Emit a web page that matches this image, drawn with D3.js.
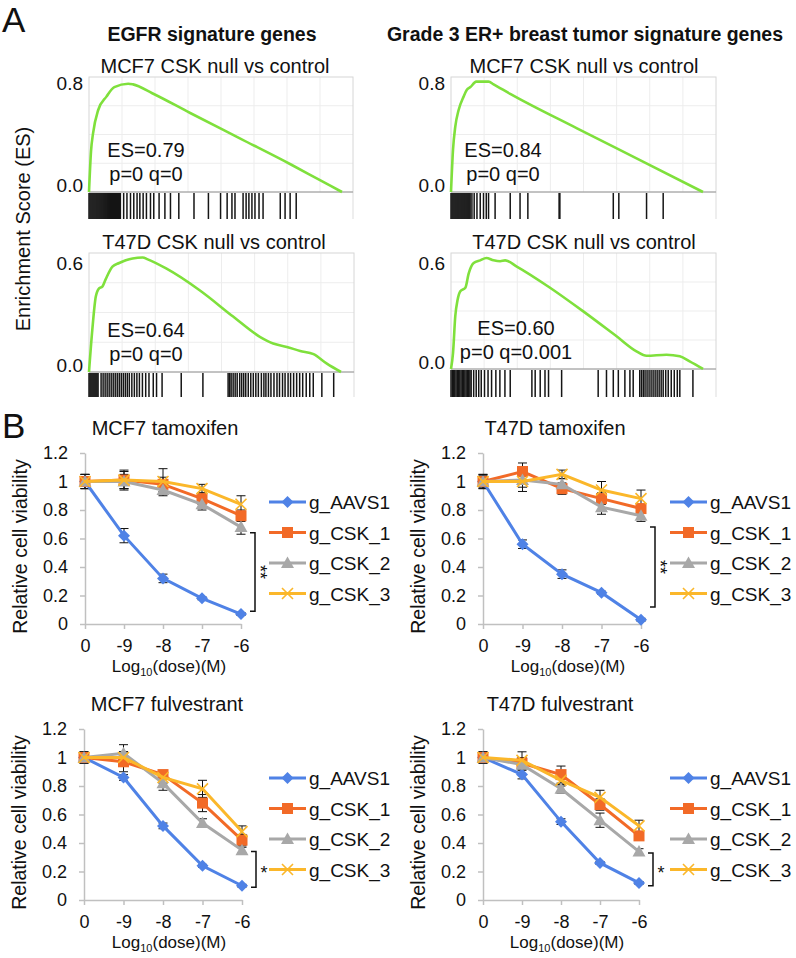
<!DOCTYPE html>
<html>
<head>
<meta charset="utf-8">
<script src="https://cdn.jsdelivr.net/npm/d3@7"></script>
<style>
body { margin: 0; background: #fff; }
text { font-family: "Liberation Sans", Arial, sans-serif; fill: #111; }
</style>
</head>
<body>
<div id="fig"></div>
<script>
// ---------- panel A: GSEA running enrichment scores ----------
// rank position (fraction of ranked gene list) and running ES
var egfrMcf7Rank = [0, 0.008, 0.016, 0.036, 0.069, 0.10, 0.155, 0.174, 0.25, 0.40, 0.60, 0.80, 0.90, 1];
var egfrMcf7Es   = [0, 0.30, 0.43, 0.60, 0.70, 0.77, 0.795, 0.79, 0.725, 0.58, 0.39, 0.20, 0.10, 0];
var egfrMcf7Hits = [0, .004, .008, .012, .016, .020, .024, .028, .032, .036, .040, .044, .048, .052, .056, .060,
    .064, .068, .072, .076, .080, .084, .088, .092, .096, .100, .104, .108, .112, .116, .120, .124,
    .137, .150, .164, .177, .190, .201, .214, .227, .243, .256, .277, .300, .322, .355, .415, .472, .520,
    .546, .565, .577, .609, .621, .632, .644, .656, .672, .688, .756, .775, .795, .819];

var gradeMcf7Rank = [0, 0.008, 0.017, 0.030, 0.050, 0.063, 0.077, 0.100, 0.149, 0.169, 0.235, 0.5, 0.75, 1];
var gradeMcf7Es   = [0, 0.31, 0.48, 0.60, 0.70, 0.75, 0.77, 0.81, 0.81, 0.79, 0.72, 0.467, 0.234, 0];
var gradeMcf7Hits = [0, .004, .008, .012, .016, .020, .024, .028, .032, .036, .040, .044, .048, .052, .056, .060,
    .064, .068, .072, .076, .083, .092, .103, .116, .129, .140, .149,
    .175, .235, .274, .305, .429, .432, .644, .666, .776, .842];

var egfrT47dRank = [0, 0.013, 0.027, 0.040, 0.053, 0.066, 0.093, 0.120, 0.146, 0.173, 0.213, 0.233, 0.306,
    0.439, 0.572, 0.678, 0.731, 0.785, 0.838, 0.891, 0.944, 1];
var egfrT47dEs   = [0, 0.23, 0.415, 0.46, 0.47, 0.51, 0.58, 0.60, 0.615, 0.625, 0.63, 0.62, 0.57,
    0.45, 0.305, 0.194, 0.157, 0.138, 0.116, 0.098, 0.046, 0];
var egfrT47dHits = [0, .004, .008, .012, .016, .020, .024, .028, .032, .036,
    .048, .056, .064, .072, .080, .088, .096, .104, .112, .120, .128, .136, .144, .152, .160, .170, .180,
    .190, .200, .212, .225, .238, .255, .268, .290, .366, .452,
    .552, .558, .564, .572, .580, .588, .598, .606, .614, .622, .632, .642, .652, .662, .672, .684, .694,
    .702, .712, .722, .734, .746, .756, .768, .778, .790, .800, .812, .824, .836, .848, .862, .876, .890,
    .924, .971];

var gradeT47dRank = [0, 0.008, 0.017, 0.026, 0.037, 0.057, 0.070, 0.090, 0.116, 0.140, 0.169, 0.195, 0.215,
    0.261, 0.393, 0.525, 0.657, 0.736, 0.776, 0.855, 0.908, 0.947, 1];
var gradeT47dEs   = [0, 0.09, 0.30, 0.39, 0.44, 0.46, 0.54, 0.60, 0.615, 0.628, 0.615, 0.61, 0.615,
    0.58, 0.46, 0.326, 0.185, 0.10, 0.075, 0.081, 0.072, 0.043, 0];
var gradeT47dHits = [0, .005, .010, .015, .020, .025, .030, .035, .040, .045, .050, .055, .060, .065, .070, .075, .080,
    .090, .100, .110, .120, .133, .147, .161, .178, .194, .214, .235,
    .321, .334, .354, .373, .387, .439, .584, .617, .644, .664, .690, .710, .723,
    .749, .756, .763, .770, .778, .786, .794, .802, .810, .818, .826, .834, .842, .852, .862, .874, .886,
    .898, .908, .960];

// ---------- panel B: relative cell viability ----------
var doseLabels = ["0", "-9", "-8", "-7", "-6"];
var seriesNames = ["g_AAVS1", "g_CSK_1", "g_CSK_2", "g_CSK_3"];
var viabTicks = [0, 0.2, 0.4, 0.6, 0.8, 1, 1.2];

var mcf7TamMean = [[1, 0.62, 0.32, 0.18, 0.07], [1, 1.01, 0.98, 0.88, 0.76], [1, 1.0, 0.94, 0.84, 0.68], [1, 1.01, 1.0, 0.95, 0.84]];
var mcf7TamErr  = [[0.05, 0.05, 0.03, 0.01, 0.01], [0.05, 0.06, 0.05, 0.04, 0.04], [0.05, 0.05, 0.04, 0.04, 0.05], [0.02, 0.07, 0.09, 0.03, 0.06]];
var t47dTamMean = [[1, 0.56, 0.35, 0.22, 0.03], [1, 1.07, 0.95, 0.88, 0.81], [1, 1.01, 0.98, 0.82, 0.76], [1, 1.0, 1.05, 0.94, 0.88]];
var t47dTamErr  = [[0.05, 0.03, 0.03, 0.01, 0.01], [0.04, 0.06, 0.04, 0.04, 0.03], [0.05, 0.05, 0.04, 0.05, 0.04], [0.03, 0.07, 0.03, 0.06, 0.06]];
var mcf7FulMean = [[1, 0.86, 0.52, 0.24, 0.10], [1, 0.97, 0.88, 0.68, 0.42], [1, 1.03, 0.82, 0.54, 0.35], [1, 1.0, 0.86, 0.78, 0.48]];
var mcf7FulErr  = [[0.04, 0.02, 0.02, 0.01, 0.01], [0.04, 0.07, 0.03, 0.06, 0.04], [0.03, 0.06, 0.05, 0.03, 0.02], [0.03, 0.04, 0.04, 0.06, 0.04]];
var t47dFulMean = [[1, 0.88, 0.55, 0.26, 0.12], [1, 0.96, 0.88, 0.67, 0.45], [1, 0.95, 0.78, 0.56, 0.34], [1, 0.98, 0.84, 0.72, 0.52]];
var t47dFulErr  = [[0.04, 0.03, 0.02, 0.01, 0.01], [0.04, 0.04, 0.06, 0.04, 0.03], [0.03, 0.03, 0.03, 0.05, 0.02], [0.03, 0.06, 0.04, 0.05, 0.04]];

// significance brackets: [top value, bottom value, stars]
var mcf7TamSig = [0.64, 0.09, "**"];
var t47dTamSig = [0.68, 0.12, "**"];
var mcf7FulSig = [0.34, 0.09, "*"];
var t47dFulSig = [0.33, 0.10, "*"];

var colors = ["#4f82e6", "#f26a27", "#a8a8a8", "#fbb72a"];
var markers = ["diamond", "square", "triangle", "cross"];

var svg = d3.select("#fig").append("svg")
    .attr("width", 796)
    .attr("height", 958);

// panel letters and headers
svg.append("text").attr("x", 2).attr("y", 32).style("font-size", "35px").text("A");
svg.append("text").attr("x", 2).attr("y", 438).style("font-size", "35px").text("B");

svg.append("text").attr("x", 212).attr("y", 41).attr("text-anchor", "middle")
    .style("font-size", "19.5px").style("font-weight", "bold").text("EGFR signature genes");
svg.append("text").attr("x", 585).attr("y", 41).attr("text-anchor", "middle")
    .style("font-size", "19.5px").style("font-weight", "bold").text("Grade 3 ER+ breast tumor signature genes");

svg.append("text")
    .attr("transform", "translate(30,229) rotate(-90)")
    .attr("text-anchor", "middle")
    .style("font-size", "20px")
    .text("Enrichment Score (ES)");

function drawGsea(p) {
    var x = d3.scaleLinear().domain([0, 1]).range([p.left, p.curveEnd]);
    var y = d3.scaleLinear().domain([0, p.tick]).range([p.zeroY, p.tickY]);
    var g = svg.append("g");

    g.append("text").attr("x", p.titleX).attr("y", p.top - 4)
        .attr("text-anchor", "middle").style("font-size", "20px").text(p.title);

    // faint grid
    d3.range(0.125, 1.05, 0.125).forEach(function (f) {
        var gx = p.left + f * (p.right - p.left);
        if (gx < p.right - 2) {
            g.append("line").attr("x1", gx).attr("x2", gx).attr("y1", p.top).attr("y2", p.zeroY)
                .attr("stroke", "#ededed").attr("stroke-width", 1);
        }
    });
    [1, 2, 3].forEach(function (i) {
        var gy = p.zeroY - i * (p.zeroY - p.top) / 4;
        g.append("line").attr("x1", p.left).attr("x2", p.right).attr("y1", gy).attr("y2", gy)
            .attr("stroke", "#ededed").attr("stroke-width", 1);
    });

    g.append("rect").attr("x", p.left).attr("y", p.top)
        .attr("width", p.right - p.left).attr("height", p.zeroY - p.top)
        .attr("fill", "none").attr("stroke", "#d6d6d6").attr("stroke-width", 1);
    g.append("line").attr("x1", p.right).attr("x2", p.right).attr("y1", p.zeroY).attr("y2", p.hitBottom)
        .attr("stroke", "#dddddd").attr("stroke-width", 1);
    g.append("line").attr("x1", p.left).attr("x2", p.right).attr("y1", p.zeroY).attr("y2", p.zeroY)
        .attr("stroke", "#9a9a9a").attr("stroke-width", 1);

    // hits
    g.selectAll(".hit").data(p.hits).enter().append("line")
        .attr("x1", function (d) { return x(d); })
        .attr("x2", function (d) { return x(d); })
        .attr("y1", p.zeroY + 1)
        .attr("y2", p.hitBottom)
        .attr("stroke", "#151515")
        .attr("stroke-width", 1.5);

    // running ES curve
    var pts = p.rank.map(function (r, i) { return [r, p.es[i]]; });
    g.append("path").datum(pts)
        .attr("fill", "none")
        .attr("stroke", "#7fe03c")
        .attr("stroke-width", 2.6)
        .attr("d", d3.line()
            .x(function (d) { return x(d[0]); })
            .y(function (d) { return y(d[1]); })
            .curve(d3.curveMonotoneX));

    // tick labels
    g.append("text").attr("x", p.left - 6).attr("y", y(p.tick) + 7)
        .attr("text-anchor", "end").style("font-size", "19px").text(p.tick.toFixed(1));
    g.append("text").attr("x", p.left - 6).attr("y", y(0))
        .attr("text-anchor", "end").style("font-size", "19px").text("0.0");

    g.append("text").attr("x", p.statX).attr("y", p.statY)
        .attr("text-anchor", "middle").style("font-size", "20px").text(p.esText);
    g.append("text").attr("x", p.statX).attr("y", p.statY + 24)
        .attr("text-anchor", "middle").style("font-size", "20px").text(p.pqText);
}

drawGsea({ title: "MCF7 CSK null vs control", titleX: 215, left: 89, right: 353, curveEnd: 342, top: 77,
    zeroY: 192, tick: 0.8, tickY: 83, hitBottom: 219, rank: egfrMcf7Rank, es: egfrMcf7Es, hits: egfrMcf7Hits,
    statX: 146, statY: 157, esText: "ES=0.79", pqText: "p=0 q=0" });
drawGsea({ title: "MCF7 CSK null vs control", titleX: 584, left: 451, right: 716, curveEnd: 703, top: 77,
    zeroY: 192, tick: 0.8, tickY: 83, hitBottom: 219, rank: gradeMcf7Rank, es: gradeMcf7Es, hits: gradeMcf7Hits,
    statX: 503, statY: 157, esText: "ES=0.84", pqText: "p=0 q=0" });
drawGsea({ title: "T47D CSK null vs control", titleX: 214, left: 89, right: 354, curveEnd: 341, top: 253,
    zeroY: 372, tick: 0.6, tickY: 263, hitBottom: 397, rank: egfrT47dRank, es: egfrT47dEs, hits: egfrT47dHits,
    statX: 146, statY: 337, esText: "ES=0.64", pqText: "p=0 q=0" });
drawGsea({ title: "T47D CSK null vs control", titleX: 584, left: 451, right: 716, curveEnd: 703, top: 253,
    zeroY: 369, tick: 0.6, tickY: 263, hitBottom: 397, rank: gradeT47dRank, es: gradeT47dEs, hits: gradeT47dHits,
    statX: 516, statY: 335, esText: "ES=0.60", pqText: "p=0 q=0.001" });

// ---------- viability charts ----------
function marker(g, type, cx, cy, color) {
    if (type == "diamond") {
        g.append("path").attr("d", "M" + cx + "," + (cy - 6) + "L" + (cx + 6) + "," + cy + "L" + cx + "," + (cy + 6) + "L" + (cx - 6) + "," + cy + "Z")
            .attr("fill", color);
    } else if (type == "square") {
        g.append("rect").attr("x", cx - 5.5).attr("y", cy - 5.5).attr("width", 11).attr("height", 11)
            .attr("fill", color);
    } else if (type == "triangle") {
        g.append("path").attr("d", "M" + cx + "," + (cy - 6.5) + "L" + (cx + 6.5) + "," + (cy + 5) + "L" + (cx - 6.5) + "," + (cy + 5) + "Z")
            .attr("fill", color);
    } else {
        g.append("path").attr("d", "M" + (cx - 5.5) + "," + (cy - 5.5) + "L" + (cx + 5.5) + "," + (cy + 5.5) +
            "M" + (cx - 5.5) + "," + (cy + 5.5) + "L" + (cx + 5.5) + "," + (cy - 5.5))
            .attr("stroke", color).attr("stroke-width", 1.6).attr("fill", "none");
    }
}

function drawViab(c) {
    var x = d3.scalePoint().domain(doseLabels).range([c.x0, c.x1]);
    var y = d3.scaleLinear().domain([0, 1.2]).range([c.yZero, c.yTop]);
    var g = svg.append("g");

    g.append("text").attr("x", c.titleX).attr("y", c.yTop - 18)
        .attr("text-anchor", "middle").style("font-size", "20px").text(c.title);

    var ya = g.append("g").attr("transform", "translate(" + c.x0 + ",0)")
        .call(d3.axisLeft(y).tickValues(viabTicks).tickSize(5).tickSizeOuter(0).tickPadding(12)
            .tickFormat(d3.format("~g")));
    var xa = g.append("g").attr("transform", "translate(0," + c.yZero + ")")
        .call(d3.axisBottom(x).tickSize(5).tickSizeOuter(0).tickPadding(10));
    [ya, xa].forEach(function (a) {
        a.select(".domain").attr("stroke", "#c0c0c0").attr("stroke-width", 1.5);
        a.selectAll(".tick line").attr("stroke", "#c0c0c0").attr("stroke-width", 1.5);
        a.selectAll(".tick text").style("font-size", "18px").style("font-family", "Liberation Sans, Arial, sans-serif").attr("fill", "#111");
    });

    g.append("text")
        .attr("transform", "translate(" + (c.x0 - 58) + "," + ((c.yZero + c.yTop) / 2 + 8) + ") rotate(-90)")
        .attr("text-anchor", "middle").style("font-size", "19.5px").text("Relative cell viability");

    var xl = g.append("text").attr("x", (c.x0 + c.x1) / 2 + 6).attr("y", c.yZero + 48)
        .attr("text-anchor", "middle").style("font-size", "17px");
    xl.append("tspan").text("Log");
    xl.append("tspan").attr("dy", 4).style("font-size", "11px").text("10");
    xl.append("tspan").attr("dy", -4).text("(dose)(M)");

    // error bars
    c.mean.forEach(function (vals, s) {
        vals.forEach(function (v, i) {
            var e = c.err[s][i];
            var cx = x(doseLabels[i]);
            g.append("path")
                .attr("d", "M" + cx + "," + y(v - e) + "V" + y(v + e) +
                    "M" + (cx - 4.5) + "," + y(v + e) + "H" + (cx + 4.5) +
                    "M" + (cx - 4.5) + "," + y(v - e) + "H" + (cx + 4.5))
                .attr("stroke", "#111").attr("stroke-width", 1).attr("fill", "none");
        });
    });

    // lines and markers
    c.mean.forEach(function (vals, s) {
        g.append("path").datum(vals)
            .attr("fill", "none").attr("stroke", colors[s]).attr("stroke-width", 3)
            .attr("d", d3.line()
                .x(function (d, i) { return x(doseLabels[i]); })
                .y(function (d) { return y(d); }));
        vals.forEach(function (v, i) {
            marker(g, markers[s], x(doseLabels[i]), y(v), colors[s]);
        });
    });

    // legend
    seriesNames.forEach(function (name, s) {
        var ry = c.yZero - 122 + s * 30.5;
        g.append("line").attr("x1", c.legendX).attr("x2", c.legendX + 37).attr("y1", ry).attr("y2", ry)
            .attr("stroke", colors[s]).attr("stroke-width", 3);
        marker(g, markers[s], c.legendX + 18.5, ry, colors[s]);
        g.append("text").attr("x", c.legendX + 40).attr("y", ry + 7).style("font-size", "19px").text(name);
    });

    // significance bracket
    var bx = c.x1 + 14;
    g.append("path")
        .attr("d", "M" + (bx - 5) + "," + y(c.sig[0]) + "H" + bx + "V" + y(c.sig[1]) + "H" + (bx - 5))
        .attr("stroke", "#111").attr("stroke-width", 1.5).attr("fill", "none");
    var my = (y(c.sig[0]) + y(c.sig[1])) / 2;
    if (c.sig[2] == "**") {
        // stacked stars, written along the bracket
        g.append("text")
            .attr("transform", "translate(" + (bx - 1.5) + "," + my + ") rotate(90)")
            .attr("text-anchor", "middle").style("font-size", "18px").text("**");
    } else {
        g.append("text").attr("x", bx + 8).attr("y", my + 9.5)
            .attr("text-anchor", "middle").style("font-size", "18px").text("*");
    }
}

drawViab({ title: "MCF7 tamoxifen", titleX: 165, x0: 85, x1: 241, yZero: 624, yTop: 453, legendX: 269,
    mean: mcf7TamMean, err: mcf7TamErr, sig: mcf7TamSig });
drawViab({ title: "T47D tamoxifen", titleX: 555, x0: 483, x1: 641, yZero: 624, yTop: 453, legendX: 670,
    mean: t47dTamMean, err: t47dTamErr, sig: t47dTamSig });
drawViab({ title: "MCF7 fulvestrant", titleX: 167, x0: 84, x1: 242, yZero: 900, yTop: 729, legendX: 269,
    mean: mcf7FulMean, err: mcf7FulErr, sig: mcf7FulSig });
drawViab({ title: "T47D fulvestrant", titleX: 560, x0: 483, x1: 639, yZero: 900, yTop: 729, legendX: 670,
    mean: t47dFulMean, err: t47dFulErr, sig: t47dFulSig });
</script>
</body>
</html>
